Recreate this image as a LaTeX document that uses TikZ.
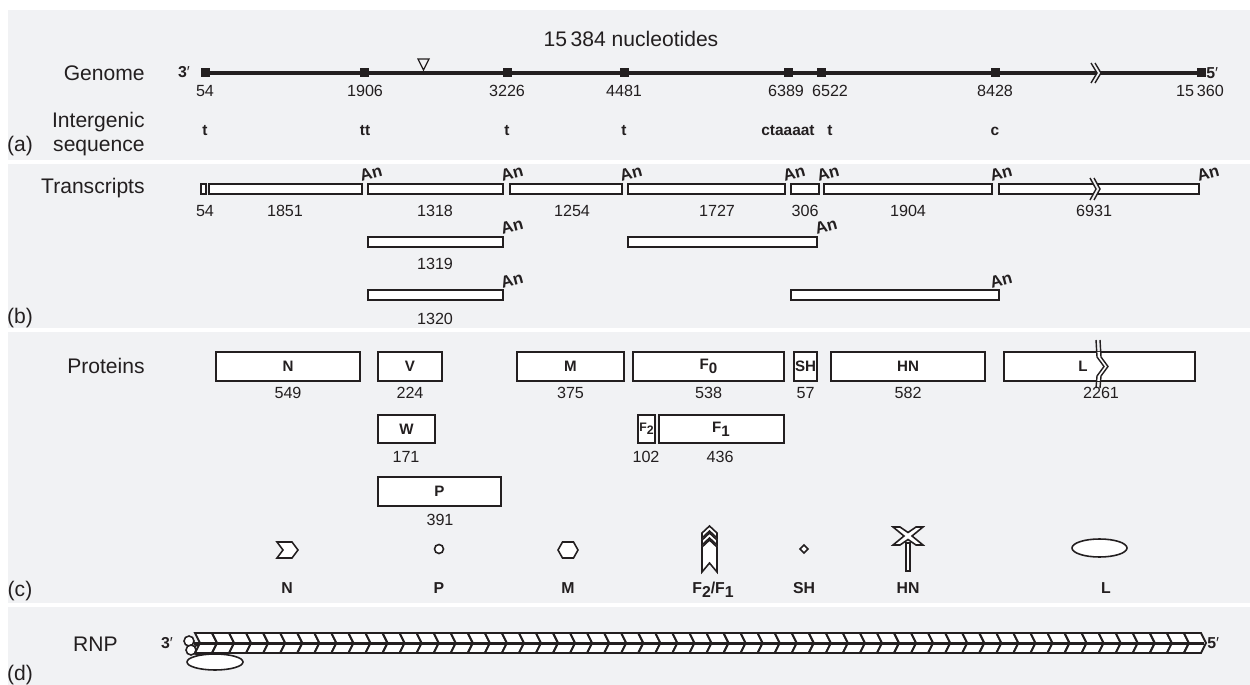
\documentclass[tikz,border=0pt]{standalone}
\usepackage{fontspec}
\setmainfont{Liberation Sans}
\definecolor{panel}{RGB}{241,242,244}
\definecolor{ink}{RGB}{35,31,32}
\newcommand{\fsz}[1]{\fontsize{#1}{#1}\selectfont}
\newcommand{\sublo}[1]{\raisebox{-0.5ex}{#1}}

\begin{document}
\begin{tikzpicture}[x=0.02cm,y=-0.02cm,
    every node/.style={inner sep=0pt,text=ink},
    lbl/.style={font=\fsz{12},anchor=base east},
    tag/.style={font=\fsz{12},anchor=base},
    num/.style={font=\fsz{9.2},anchor=base},
    seq/.style={font=\fsz{8.8}\bfseries,anchor=base},
    polya/.style={font=\fsz{9.5}\bfseries,rotate=15},
    plab/.style={font=\fsz{8.6}\bfseries},
    bx/.style={draw=ink,line width=0.8pt,fill=white},
    icon/.style={draw=ink,line width=0.9pt,fill=white},
    brk/.style={draw=ink,line width=0.8pt}]
  \useasboundingbox (0,0) rectangle (1250,685);
  \fill[white] (0,0) rectangle (1250,685);
  % four panels
  \fill[panel] (8,10) rectangle (1250,160);
  \fill[panel] (8,164) rectangle (1250,328);
  \fill[panel] (8,332) rectangle (1250,603);
  \fill[panel] (8,607) rectangle (1250,685);

  % (a) genome
  \node[tag] (total) at (631,47) {15\,384 nucleotides};
  \node[lbl] (genome) at (145,81) {Genome};
  \node[lbl] (interg) at (145,128) {Intergenic};
  \node[lbl] (sequ) at (145,152) {sequence};
  \node[tag] (pa) at (20,152) {(a)};
  \draw[ink,line width=2.2pt] (205,73) -- (1201,73);
  \fill[panel] (1091,61) -- (1097,73) -- (1091,85) -- (1095,85) -- (1101,73) -- (1095,61) -- cycle;
  \draw[brk] (1091,63) -- (1097,73) -- (1091,83) (1095,63) -- (1101,73) -- (1095,83);
  \foreach \x/\lx/\n [count=\k] in {205.7/205/54, 364.3/365/1906, 507.3/507/3226,
      624.3/624/4481, 788.3/786/6389, 821.7/830/6522, 995.7/995/8428, 1201/1200/{15\,360}} {
    \fill[ink] (\x-4.5,68.5) rectangle (\x+4.5,77.5);
    \node[num] (gpos\k) at (\lx,97) {\n};
  }
  \node[font=\fsz{9},anchor=base] (end3) at (184,78) {\textbf{3}′};
  \node[font=\fsz{9},anchor=base west] (end5) at (1206,79) {\textbf{5}′};
  \draw[ink,line width=0.7pt] (418,59) -- (429,59) -- (423.5,70) -- cycle;
  \foreach \x/\s [count=\k] in {205/t, 365/tt, 507/t, 624/t, 788/ctaaaat, 830/t, 995/c}
    \node[seq] (ig\k) at (\x,136) {\s};

  % (b) transcripts
  \node[lbl] (transcr) at (145,194) {Transcripts};
  \node[tag] (pb) at (20,324) {(b)};
  \foreach \a/\b in {201/206, 209/362, 368/503, 510/622, 628/785, 791/819, 824/992, 999/1199}
    \draw[bx] (\a,184) rectangle (\b,194);
  \draw[bx] (368,237) rectangle (503,247);
  \draw[bx] (628,237) rectangle (817,247);
  \draw[bx] (368,290) rectangle (503,300);
  \draw[bx] (791,290) rectangle (999,300);
  \fill[panel] (1090,178) -- (1096,189) -- (1090,200) -- (1094,200) -- (1100,189) -- (1094,178) -- cycle;
  \draw[brk] (1090,178) -- (1096,189) -- (1090,200) (1094,178) -- (1100,189) -- (1094,200);
  \foreach \x/\y [count=\k] in {371/173, 512/173, 631/173, 794/173, 828/173, 1001/173, 1208/173,
      512/226, 826/226, 512/280, 1001/280}
    \node[polya] (an\k) at (\x,\y) {An};
  \foreach \x/\n [count=\k] in {205/54, 285/1851, 435/1318, 572/1254, 717/1727, 805/306, 908/1904, 1094/6931}
    \node[num] (tlen\k) at (\x,216.5) {\n};
  \node[num] (tlen9) at (435,269.5) {1319};
  \node[num] (tlen10) at (435,324.5) {1320};

  % (c) proteins
  \node[lbl] (proteins) at (145,373.5) {Proteins};
  \node[tag] (pc) at (20,596) {(c)};
  \foreach \a/\b/\t/\n [count=\k] in {216/360/N/549, 378/442/V/224, 517/624/M/375,
      633/784/{F\sublo{0}}/538, 794/817/SH/57, 831/985/HN/582} {
    \draw[bx] (\a,352) rectangle (\b,381);
    \node[plab] (prot\k) at ({(\a+\b)/2},366.5) {\t};
    \node[num] (plen\k) at ({(\a+\b)/2},398.5) {\n};
  }
  \draw[bx] (1004,352) rectangle (1195,381);
  \node[plab] (protL) at (1083,366.5) {L};
  \node[num] (plenL) at (1101,398.5) {2261};
  \fill[white] (1096,352) -- (1097,357) -- (1104,366.5) -- (1097,376) -- (1096,381)
    -- (1100,381) -- (1101,376) -- (1108,366.5) -- (1101,357) -- (1100,352) -- cycle;
  \draw[brk] (1096,340) -- (1097,357) -- (1104,366.5) -- (1097,376) -- (1096,388)
    (1100,340) -- (1101,357) -- (1108,366.5) -- (1101,376) -- (1100,388);
  \draw[bx] (378,415) rectangle (435,443);
  \node[plab] (protW) at (406.5,429) {W};
  \node[num] (plenW) at (406,462.5) {171};
  \draw[bx] (638,415) rectangle (655,443);
  \node[plab,font=\fsz{7}\bfseries] (protF2) at (646.5,429) {F\sublo{2}};
  \node[num] (plenF2) at (646,462.5) {102};
  \draw[bx] (659,415) rectangle (784,443);
  \node[plab] (protF1) at (721,429) {F\sublo{1}};
  \node[num] (plenF1) at (720,462.5) {436};
  \draw[bx] (378,477) rectangle (501,506);
  \node[plab] (protP) at (439.5,491.5) {P};
  \node[num] (plenP) at (440,525.5) {391};

  % virion components
  \draw[icon] (277,542) -- (292,542) -- (298,550) -- (292,558) -- (277,558) -- (283,550) -- cycle;
  \draw[icon] (439,549) circle (4.5);
  \draw[icon] (558,550) -- (562.5,542) -- (573.5,542) -- (578,550) -- (573.5,558) -- (562.5,558) -- cycle;
  \draw[icon] (702,533) -- (709.5,526) -- (717,533) -- (717,538) -- (709.5,531) -- (702,538) -- cycle;
  \draw[icon] (702,540) -- (709.5,533) -- (717,540) -- (717,545) -- (709.5,538) -- (702,545) -- cycle;
  \draw[icon] (702,572) -- (702,547) -- (709.5,540) -- (717,547) -- (717,572) -- (709.5,563) -- cycle;
  \draw[icon] (804,545) -- (808,549) -- (804,553) -- (800,549) -- cycle;
  \draw[icon] (906,543) rectangle (910,571);
  \draw[icon] (893,527) -- (900,527) -- (908,532.5) -- (916,527) -- (923,527) -- (912,536)
    -- (923,545) -- (916,545) -- (908,539.5) -- (900,545) -- (893,545) -- (904,536) -- cycle;
  \draw[icon] (1099.5,548) ellipse (27.5 and 9);
  \foreach \x/\t [count=\k] in {287/N, 439/P, 568/M, 713/{F\sublo{2}/F\sublo{1}}, 804/SH, 908/HN, 1106/L}
    \node[plab,anchor=base,font=\fsz{9}\bfseries] (comp\k) at (\x,593) {\t};

  % (d) nucleocapsid
  \node[lbl] (rnp) at (118,651.5) {RNP};
  \node[tag] (pd) at (20,680) {(d)};
  \node[font=\fsz{9},anchor=base] (rnp3) at (167,648) {\textbf{3}′};
  \draw[icon] (198,650) circle (5);
  \draw[icon] (189,641) circle (5);
  \draw[icon] (191,650) circle (5);
  \foreach \i in {0,...,58}
    \draw[icon,line width=1.1pt] (195+17.05*\i,633) -- ++(17.05,0) -- ++(5,10) -- ++(-5,10)
      -- ++(-17.05,0) -- ++(5,-10) -- cycle;
  \draw[ink,line width=2pt] (194,643.5) -- (1204,643.5);
  \draw[icon] (215,662) ellipse (28 and 8);
  \node[font=\fsz{9},anchor=base west] (rnp5) at (1207,648) {\textbf{5}′};
\end{tikzpicture}
\end{document}
